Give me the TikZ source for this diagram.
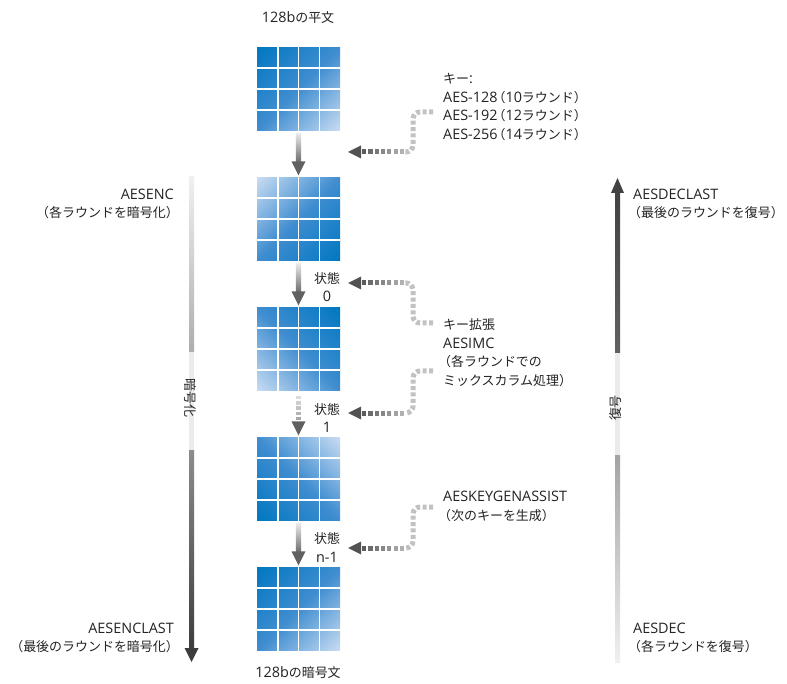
\documentclass[tikz,border=0pt]{standalone}
\usepackage{fontspec}
\setmainfont{Open Sans}
\newfontfamily\jp{Noto Sans CJK JP}[Scale=0.9]
\usetikzlibrary{calc}
\definecolor{bdk}{HTML}{0077C1}
\definecolor{bmd}{HTML}{3F8DD0}
\definecolor{blt}{HTML}{C8DCF2}
\definecolor{txt}{HTML}{232323}
\pgfdeclareverticalshading{aesg}{100bp}{color(0bp)=(blt); color(14.6bp)=(blt); color(50bp)=(bmd); color(85.4bp)=(bdk); color(100bp)=(bdk)}
\newcommand\lp{{\jp\kern-5pt（}}
\newcommand\rp{{\jp）\kern-5pt}}
\tikzset{
  lbl/.style={font=\fontsize{14.4pt}{18.6pt}\selectfont, text=txt, inner sep=0pt},
  aesgrid/.style={inner sep=0pt, minimum width=83pt, minimum height=83pt, shading=aesg},
  gridline/.style={white, line width=1.7pt},
  keyline/.style={line width=5pt, dash pattern=on 4pt off 2.4pt, black!24, rounded corners=7pt},
}
\newcommand\vdown[2]{%
  \shade[top color=black!8, bottom color=black!58] ($(#1.south)+(-2.6,2.5)$) rectangle ($(#2.north)+(2.6,-15)$);
  \fill[black!62] ($(#2.north)+(-7,-16)$) -- ($(#2.north)+(7,-16)$) -- ($(#2.north)+(0,-2)$) -- cycle;}
\newcommand\keyarr[2]{%
  \draw[keyline] (#1) -| ($(#2)+(65,0)$) -- ($(#2)+(57,0)$);
  \foreach \i in {0,...,6}{\pgfmathtruncatemacro\pc{64-\i*5.5}\fill[black!\pc] ($(#2)+(14+\i*6.3,-2.5)$) rectangle ++(4.2,5);}
  \fill[black!68] (#2) -- ++(13,-6.5) -- ++(0,13) -- cycle;}
\begin{document}
\begin{tikzpicture}[x=1pt,y=-1pt]
\fill[white] (0,0) rectangle (787,684);
\useasboundingbox (0,0) rectangle (787,684);
% grids
\node[aesgrid, shading angle=45] (g1) at (298.5,89) {};
\node[aesgrid, shading angle=225] (g2) at (298.5,219) {};
\node[aesgrid, shading angle=-45] (g3) at (298.5,349) {};
\node[aesgrid, shading angle=135] (g4) at (298.5,479) {};
\node[aesgrid, shading angle=45] (g5) at (298.5,609) {};
\foreach \g in {g1,g2,g3,g4,g5}{\foreach \k in {0.25,0.5,0.75}{
  \draw[gridline] ($(\g.north west)!\k!(\g.north east)$) -- ($(\g.south west)!\k!(\g.south east)$);
  \draw[gridline] ($(\g.north west)!\k!(\g.south west)$) -- ($(\g.north east)!\k!(\g.south east)$);}}
% vertical arrows
\vdown{g1}{g2}
\vdown{g2}{g3}
\vdown{g4}{g5}
\foreach \i in {0,...,4}{\pgfmathtruncatemacro\pc{14+\i*5}\fill[black!\pc] ($(g3.south)+(-2.6,5+\i*5.3)$) rectangle ++(5.2,3.5);}
\fill[black!62] ($(g4.north)+(-7,-16)$) -- ($(g4.north)+(7,-16)$) -- ($(g4.north)+(0,-2)$) -- cycle;
% state labels
\node[lbl, align=center] (s0) at (327,287) {{\jp 状態}\\0};
\node[lbl, align=center] (s1) at (327,418) {{\jp 状態}\\1};
\node[lbl, align=center] (sn) at (327,547.5) {{\jp 状態}\\n-1};
% texts
\node[lbl] (pt) at (298,18) {128b{\jp の平文}};
\node[lbl] (ct) at (298,673) {128b{\jp の暗号文}};
\node[lbl, align=left, anchor=north west] (keys) at (443,73) {{\jp キー}:\\AES-128\lp 10{\jp ラウンド}\rp\\AES-192\lp 12{\jp ラウンド}\rp\\AES-256\lp 14{\jp ラウンド}\rp};
\node[lbl, align=left, anchor=north west] (imc) at (443,318.5) {{\jp キー拡張}\\AESIMC\\\lp{\jp 各ラウンドでの}\\{\jp ミックスカラム処理}\rp};
\node[lbl, align=left, anchor=north west] (kga) at (443,491) {AESKEYGENASSIST\\\lp{\jp 次のキーを生成}\rp};
\node[lbl, align=right, anchor=north east] (enc) at (174,188.5) {AESENC\\\lp{\jp 各ラウンドを暗号化}\rp};
\node[lbl, align=right, anchor=north east] (encl) at (174,622.5) {AESENCLAST\\\lp{\jp 最後のラウンドを暗号化}\rp};
\node[lbl, align=left, anchor=north west] (decl) at (633,188.5) {AESDECLAST\\\lp{\jp 最後のラウンドを復号}\rp};
\node[lbl, align=left, anchor=north west] (dec) at (633,622.5) {AESDEC\\\lp{\jp 各ラウンドを復号}\rp};
% key arrows
\coordinate (k0e) at (433,112); \coordinate (k0t) at (348,152);
\coordinate (k1e) at (433,323); \coordinate (k1t) at (348,283);
\coordinate (k2e) at (433,371); \coordinate (k2t) at (348,413);
\coordinate (k3e) at (433,507); \coordinate (k3t) at (348,548);
\keyarr{k0e}{k0t}
\keyarr{k1e}{k1t}
\keyarr{k2e}{k2t}
\keyarr{k3e}{k3t}
% left bar (encryption)
\coordinate (eA) at (189,177); \coordinate (eB) at (194,352);
\coordinate (eC) at (189,450); \coordinate (eD) at (194,649);
\shade[top color=black!6, bottom color=black!32] (eA) rectangle (eB);
\fill[black!8] (189,352) rectangle (eC -| eB);
\shade[top color=black!45, bottom color=black!76] (eC) rectangle (eD);
\fill[black!76] (184.5,648) -- (198.5,648) -- (191.5,662) -- cycle;
\node[lbl, rotate=-90] (enctxt) at (190,398) {\jp 暗号化};
% right bar (decryption)
\coordinate (dA) at (615,192); \coordinate (dB) at (620,353);
\coordinate (dC) at (615,455); \coordinate (dD) at (620,662);
\fill[black!74] (611,193) -- (624,193) -- (617.5,178) -- cycle;
\shade[top color=black!74, bottom color=black!62] (dA) rectangle (dB);
\fill[black!8] (615,353) rectangle (dC -| dB);
\shade[top color=black!36, bottom color=black!6] (dC) rectangle (dD);
\node[lbl, rotate=90] (dectxt) at (616,408) {\jp 復号};
\end{tikzpicture}
\end{document}
